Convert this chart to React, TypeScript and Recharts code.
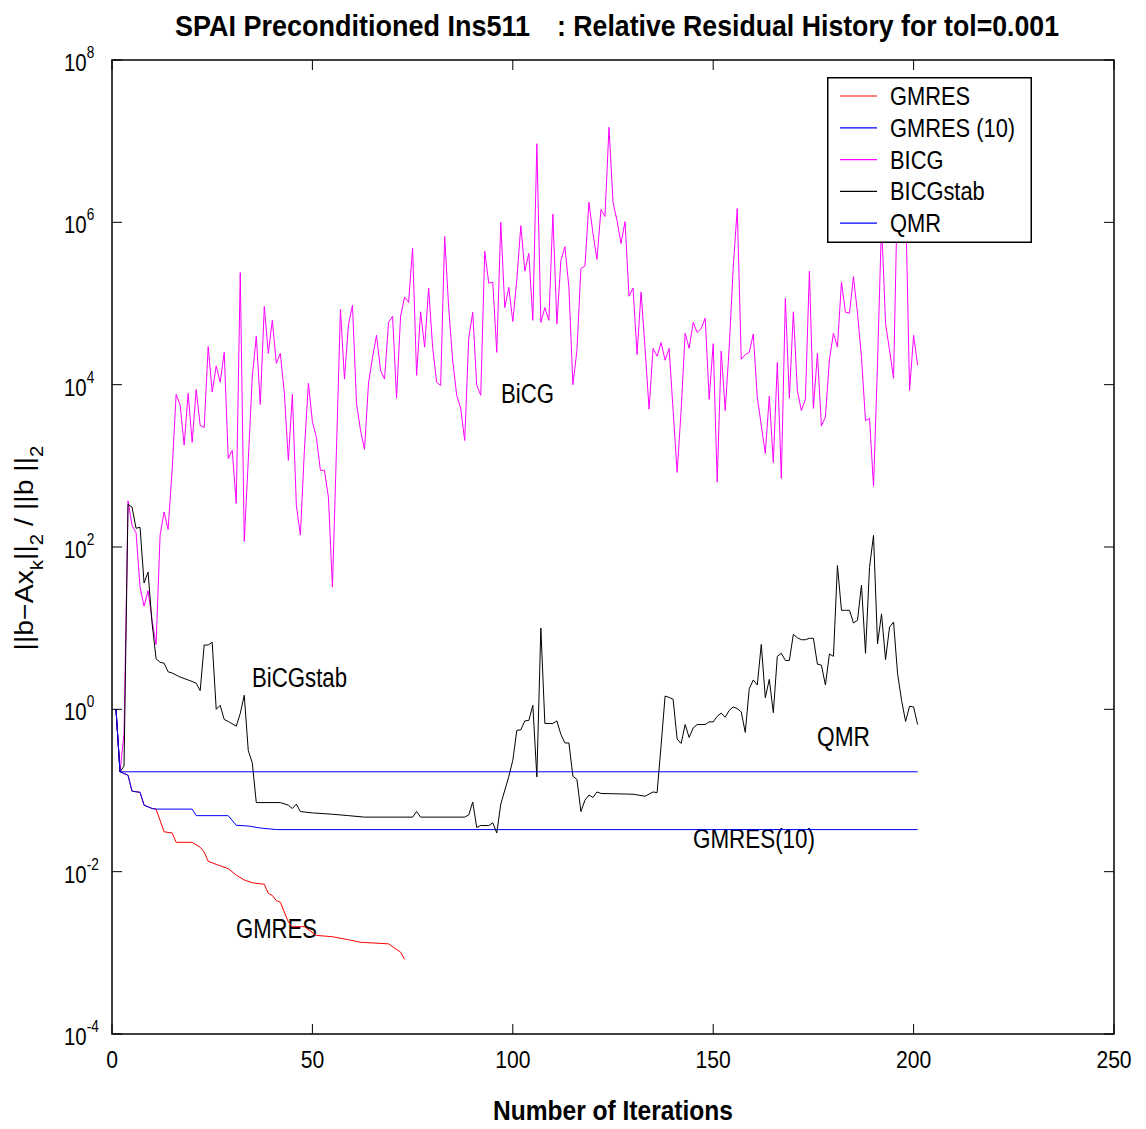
import React from "react";
import { LineChart, Line, XAxis, YAxis, Legend, ReferenceArea, Customized } from "recharts";

// ---------- data ----------
const xTicks = [0, 50, 100, 150, 200, 250];
const yTicks = [1e-4, 1e-2, 1, 1e2, 1e4, 1e6, 1e8];
const legendOrder = ["GMRES", "GMRES (10)", "BICG", "BICGstab", "QMR"];

const gmresIters = [1, 2, 4, 5, 7, 8, 10, 11, 13, 15, 16, 20, 22, 23, 24, 26, 29, 31, 33, 35, 38, 39, 40, 41, 42, 44, 45, 48, 51, 55, 59, 62, 69, 72, 73];
const gmresRes = [1, 0.17, 0.154, 0.098, 0.095, 0.066, 0.06, 0.059, 0.031, 0.03, 0.023, 0.023, 0.02, 0.0174, 0.0134, 0.0123, 0.0109, 0.0091, 0.0079, 0.0073, 0.007, 0.0054, 0.0051, 0.0044, 0.0042, 0.0024, 0.0021, 0.0021, 0.00164, 0.00158, 0.00145, 0.00135, 0.00129, 0.00102, 0.00083];

const gmres10Iters = [1, 2, 4, 5, 7, 8, 10, 11, 20, 21, 29, 31, 34, 37, 41, 201];
const gmres10Res = [1, 0.17, 0.154, 0.098, 0.095, 0.066, 0.06, 0.059, 0.059, 0.049, 0.049, 0.0373, 0.0365, 0.0345, 0.033, 0.033];

// BiCG: one value per iteration, starting at iteration 1
const bicgRes = [
  1, 0.17, 0.5, 370, 185, 150, 32, 18.6, 29, 12.5,
  6.3, 140, 270, 165, 880, 7600, 5600, 1800, 7800, 1950,
  8700, 3150, 2970, 29500, 8100, 17000, 10700, 25000, 1230, 1550,
  345, 240000, 117, 1170, 12300, 39500, 5700, 92000, 24300, 62000,
  18300, 24300, 7800, 1170, 7600, 325, 140, 1550, 10400, 3500,
  2240, 880, 880, 410, 32, 1550, 85000, 11700, 55000, 95000,
  5900, 2750, 1600, 10400, 21700, 40500, 15000, 11700, 58500, 69500,
  6800, 69500, 120000, 103000, 480000, 13000, 79000, 29000, 155000, 29000,
  10700, 9800, 670000, 89000, 20000, 7400, 5100, 2050, 37000, 78000,
  9800, 7400, 440000, 178000, 183000, 25000, 1000000, 89000, 158000, 60000,
  195000, 910000, 250000, 415000, 62000, 9300000, 58500, 89000, 62000, 1260000,
  56000, 340000, 500000, 158000, 10000, 26500, 270000, 290000, 1770000, 730000,
  350000, 1440000, 1180000, 14800000, 1770000, 1050000, 550000, 1020000, 123000, 155000,
  23500, 138000, 28000, 5000, 28000, 22400, 33000, 20000, 28000, 4800,
  830, 4800, 43000, 28000, 58500, 44000, 49000, 66000, 6600, 32000,
  630, 26000, 4800, 29000, 280000, 1480000, 20500, 23500, 25000, 42000,
  7000, 3150, 1420, 7200, 1100, 18800, 700, 116000, 6800, 79000,
  8500, 4800, 6600, 250000, 5100, 24300, 3100, 4000, 20500, 43000,
  29000, 183000, 78000, 76000, 215000, 76000, 21700, 3600, 3850, 560,
  18300, 1000000, 57000, 26500, 12000, 3000000, 5000000, 2000000, 8500, 40500,
  17400,
];

const bicgstabIters = [1, 2, 3, 4, 5, 6, 7, 8, 9, 10, 11, 12, 13, 14, 15, 17, 19, 20, 21, 22, 23, 24, 25, 26, 27, 28, 29, 31, 32, 33, 34, 35, 36, 42, 44, 45, 46, 47, 50, 55, 59, 63, 75, 76, 77, 88, 89, 90, 91, 92, 94, 95, 96, 97, 99, 100, 101, 102, 103, 104, 105, 106, 107, 108, 110, 111, 112, 113, 114, 115, 116, 117, 118, 119, 120, 121, 122, 130, 133, 135, 136, 137, 138, 139, 140, 141, 142, 143, 144, 145, 146, 148, 149, 150, 151, 152, 153, 154, 155, 156, 157, 158, 159, 160, 161, 162, 163, 164, 165, 166, 167, 168, 169, 170, 171, 172, 173, 174, 175, 176, 177, 178, 179, 180, 181, 182, 183, 184, 185, 186, 187, 188, 189, 190, 191, 192, 193, 194, 195, 196, 197, 198, 199, 200, 201];
const bicgstabRes = [1, 0.17, 0.2, 335, 310, 170, 175, 36, 49, 11.5, 4.2, 3.8, 3.7, 2.9, 2.8, 2.5, 2.3, 2.2, 2.1, 1.7, 6.2, 6.2, 6.7, 1.0, 1.12, 0.75, 0.71, 0.62, 0.89, 1.49, 0.31, 0.22, 0.071, 0.071, 0.066, 0.06, 0.068, 0.055, 0.053, 0.051, 0.049, 0.047, 0.047, 0.055, 0.047, 0.047, 0.05, 0.072, 0.035, 0.037, 0.037, 0.04, 0.03, 0.068, 0.149, 0.235, 0.55, 0.56, 0.72, 0.73, 1.12, 0.147, 10, 0.67, 0.67, 0.72, 0.49, 0.385, 0.385, 0.15, 0.137, 0.055, 0.076, 0.088, 0.082, 0.096, 0.092, 0.09, 0.085, 0.096, 0.094, 0.36, 1.46, 1.4, 1.33, 0.43, 0.38, 0.65, 0.45, 0.59, 0.65, 0.65, 0.7, 0.7, 0.82, 0.9, 0.8, 0.97, 1.07, 1.02, 0.93, 0.52, 1.8, 2.3, 2.0, 6.3, 1.39, 2.34, 0.91, 4.5, 4.9, 4.0, 4.0, 8.4, 7.6, 7.2, 7.2, 7.5, 7.5, 3.6, 3.5, 2.0, 4.8, 4.5, 59, 16.6, 16.6, 16.6, 11.6, 12.5, 34, 4.9, 56, 139, 6.4, 15, 4.1, 10.3, 11.9, 2.75, 1.29, 0.71, 1.09, 1.07, 0.65];

const qmrIters = [1, 2, 201];
const qmrRes = [1, 0.17, 0.17];

// ---------- tables built from the arrays ----------
const pairs = (its: number[], vals: number[]) => its.map((it, i) => ({ it, v: vals[i] }));
const gmresData = pairs(gmresIters, gmresRes);
const gmres10Data = pairs(gmres10Iters, gmres10Res);
const bicgData = bicgRes.map((v, i) => ({ it: i + 1, v }));
const bicgstabData = pairs(bicgstabIters, bicgstabRes);
const qmrData = pairs(qmrIters, qmrRes);

// ---------- layout / style ----------
const W = 1146;
const H = 1129;
const PL = 112, PR = 1114, PT = 60, PB = 1034;
const FONT = "'Liberation Sans', Arial, Helvetica, sans-serif";
const TICK_LEN = 10;

const XTick = (props: any) => {
  const { x, payload } = props;
  return (
    <g>
      <line x1={x} x2={x} y1={PB} y2={PB - TICK_LEN} stroke="#000" strokeWidth={1} />
      <line x1={x} x2={x} y1={PT} y2={PT + TICK_LEN} stroke="#000" strokeWidth={1} />
      <text transform={`translate(${x},1068) scale(0.88,1)`} textAnchor="middle" fontFamily={FONT} fontSize={24} fill="#000">
        {payload.value}
      </text>
    </g>
  );
};

const YTick = (props: any) => {
  const { y, payload } = props;
  const exp = Math.round(Math.log10(payload.value));
  const lab = exp < 0 ? "-" + Math.abs(exp) : String(exp);
  return (
    <g>
      <line x1={PL} x2={PL + TICK_LEN} y1={y} y2={y} stroke="#000" strokeWidth={1} />
      <line x1={PR} x2={PR - TICK_LEN} y1={y} y2={y} stroke="#000" strokeWidth={1} />
      <text transform={`translate(64,${y + 11}) scale(0.85,1)`} fontFamily={FONT} fontSize={24} fill="#000">
        10
        <tspan dy={-13} fontSize={16}>{lab}</tspan>
      </text>
    </g>
  );
};

const LegendBox = (props: any) => {
  const payload = [...(props.payload || [])].sort(
    (a: any, b: any) => legendOrder.indexOf(a.value) - legendOrder.indexOf(b.value)
  );
  return (
    <svg width={205} height={166} style={{ display: "block" }}>
      <rect x={0.75} y={0.75} width={203.5} height={164.5} fill="#fff" stroke="#000" strokeWidth={1.5} />
      {payload.map((p: any, i: number) => {
        const ly = 19 + i * 31.8;
        return (
          <g key={i}>
            <line x1={13} x2={50} y1={ly} y2={ly} stroke={p.color} strokeWidth={1.2} />
            <text transform={`translate(63,${ly + 9}) scale(0.875,1)`} fontFamily={FONT} fontSize={25} fill="#000">
              {p.value}
            </text>
          </g>
        );
      })}
    </svg>
  );
};

const Labels = () => (
  <g fontFamily={FONT} fill="#000">
    <text x={175} y={36} fontSize={29} fontWeight="bold" textLength={355} lengthAdjust="spacingAndGlyphs">
      SPAI Preconditioned Ins511
    </text>
    <text x={557} y={36} fontSize={29} fontWeight="bold" textLength={502} lengthAdjust="spacingAndGlyphs">
      : Relative Residual History for tol=0.001
    </text>
    <text x={493} y={1120} fontSize={28} fontWeight="bold" textLength={240} lengthAdjust="spacingAndGlyphs">
      Number of Iterations
    </text>
    <text transform="translate(33,548) rotate(-90)" textAnchor="middle" fontSize={25} textLength={205} lengthAdjust="spacingAndGlyphs">
      ||b−Ax<tspan baselineShift="sub" fontSize={18}>k</tspan>||<tspan baselineShift="sub" fontSize={18}>2</tspan> / ||b ||<tspan baselineShift="sub" fontSize={18}>2</tspan>
    </text>
    <text x={501} y={403} fontSize={27} textLength={53} lengthAdjust="spacingAndGlyphs">BiCG</text>
    <text x={252} y={687} fontSize={27} textLength={95} lengthAdjust="spacingAndGlyphs">BiCGstab</text>
    <text x={817} y={746} fontSize={27} textLength={53} lengthAdjust="spacingAndGlyphs">QMR</text>
    <text x={693} y={848} fontSize={27} textLength={122} lengthAdjust="spacingAndGlyphs">GMRES(10)</text>
    <text x={236} y={938} fontSize={27} textLength={81} lengthAdjust="spacingAndGlyphs">GMRES</text>
  </g>
);

export default function App() {
  return (
    <div style={{ position: "absolute", left: 0, top: 0, width: W, height: H, background: "#fff" }}>
      <LineChart width={W} height={H} margin={{ top: PT, right: W - PR, bottom: 0, left: 0 }}>
        <XAxis
          type="number"
          dataKey="it"
          domain={[0, 250]}
          ticks={xTicks}
          tick={<XTick />}
          axisLine={false}
          tickLine={false}
          height={H - PB}
          allowDataOverflow
        />
        <YAxis
          type="number"
          scale="log"
          domain={[1e-4, 1e8]}
          ticks={yTicks}
          tick={<YTick />}
          axisLine={false}
          tickLine={false}
          width={PL}
          allowDataOverflow
        />
        <Line data={gmresData} dataKey="v" name="GMRES" type="linear" stroke="#ff0000" strokeWidth={1} dot={false} isAnimationActive={false} />
        <Line data={gmres10Data} dataKey="v" name="GMRES (10)" type="linear" stroke="#0000ff" strokeWidth={1} dot={false} isAnimationActive={false} />
        <Line data={bicgData} dataKey="v" name="BICG" type="linear" stroke="#ff00ff" strokeWidth={1} dot={false} isAnimationActive={false} />
        <Line data={bicgstabData} dataKey="v" name="BICGstab" type="linear" stroke="#000000" strokeWidth={1} dot={false} isAnimationActive={false} />
        <Line data={qmrData} dataKey="v" name="QMR" type="linear" stroke="#0000ff" strokeWidth={1} dot={false} isAnimationActive={false} />
        <ReferenceArea x1={0} x2={250} y1={1e-4} y2={1e8} fill="none" stroke="#000" strokeWidth={1.5} ifOverflow="visible" />
        <Customized component={Labels} />
        <Legend
          layout="vertical"
          align="center"
          verticalAlign="middle"
          content={<LegendBox />}
          wrapperStyle={{ position: "absolute", left: 827, top: 77, width: 205, height: 166, margin: 0, padding: 0 }}
        />
      </LineChart>
    </div>
  );
}
